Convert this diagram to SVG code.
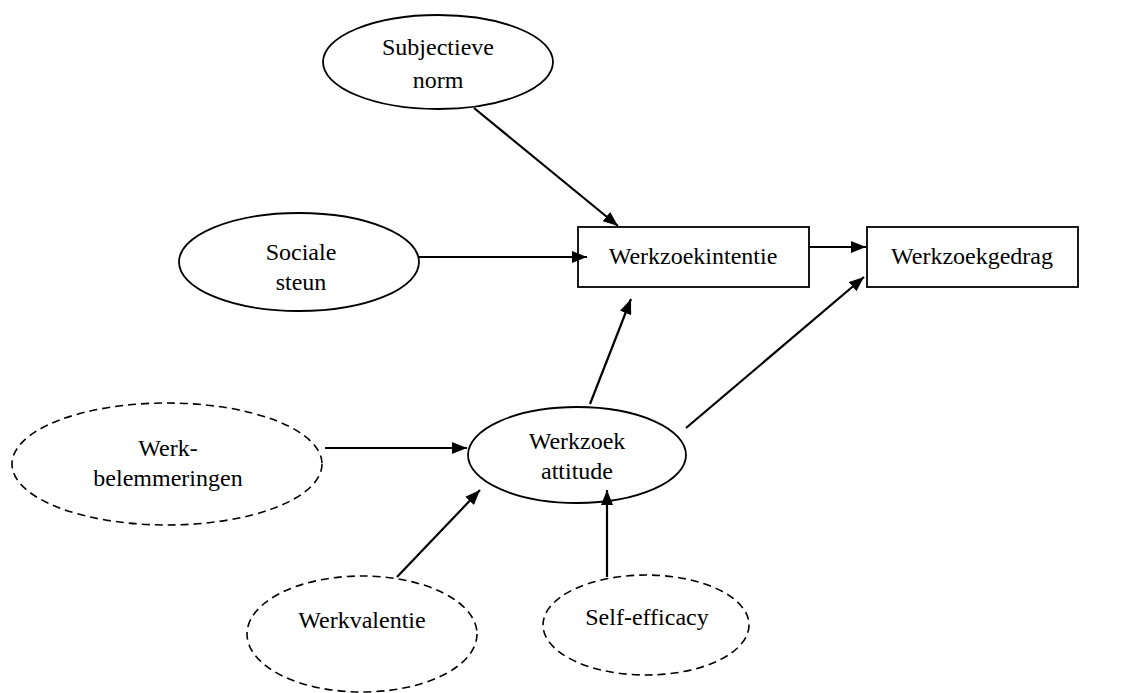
<svg xmlns="http://www.w3.org/2000/svg" width="1146" height="693" viewBox="0 0 1146 693">
<style>
text{font-family:"Liberation Serif","Times New Roman",serif;font-size:24px;fill:#000;text-anchor:middle}
.solid{fill:#fff;stroke:#000;stroke-width:1.8}
.dash{fill:#fff;stroke:#000;stroke-width:1.6;stroke-dasharray:8 5}
.conn line{stroke:#000;stroke-width:2.2;marker-end:url(#ah)}
</style>
<defs>
<marker id="ah" markerUnits="userSpaceOnUse" markerWidth="16" markerHeight="12" refX="15" refY="6" orient="auto">
<path d="M0,0 L15,6 L0,12 z" fill="#000"/>
</marker>
</defs>
<rect width="1146" height="693" fill="#fff"/>
<g id="subjectieve-norm">
<ellipse class="solid" cx="438" cy="62" rx="115" ry="47"/>
<text x="438" y="55">Subjectieve</text>
<text x="438" y="88">norm</text>
</g>
<g id="sociale-steun">
<ellipse class="solid" cx="299" cy="262" rx="120" ry="49"/>
<text x="301" y="260">Sociale</text>
<text x="301" y="290">steun</text>
</g>
<g id="werkzoekintentie">
<rect class="solid" x="578" y="227" width="231" height="60"/>
<text x="693" y="264">Werkzoekintentie</text>
</g>
<g id="werkzoekgedrag">
<rect class="solid" x="867" y="227" width="211" height="60"/>
<text x="972" y="264">Werkzoekgedrag</text>
</g>
<g id="werkzoek-attitude">
<ellipse class="solid" cx="577" cy="455" rx="109" ry="48"/>
<text x="577" y="449">Werkzoek</text>
<text x="577" y="479">attitude</text>
</g>
<g id="werkbelemmeringen">
<ellipse class="dash" cx="167" cy="464" rx="155" ry="61"/>
<text x="168" y="456">Werk-</text>
<text x="168" y="486">belemmeringen</text>
</g>
<g id="werkvalentie">
<ellipse class="dash" cx="362" cy="634" rx="115" ry="58"/>
<text x="362" y="628">Werkvalentie</text>
</g>
<g id="self-efficacy">
<ellipse class="dash" cx="646" cy="625" rx="103" ry="50"/>
<text x="647" y="625">Self-efficacy</text>
</g>
<g id="connectors" class="conn">
<line x1="474" y1="108" x2="618" y2="226"/>
<line x1="419" y1="257" x2="587" y2="257"/>
<line x1="809" y1="247" x2="866" y2="247"/>
<line x1="590" y1="404" x2="631" y2="299"/>
<line x1="686" y1="428" x2="864" y2="277"/>
<line x1="325" y1="448" x2="467" y2="448"/>
<line x1="397" y1="577" x2="480" y2="490"/>
<line x1="607" y1="577" x2="607" y2="490"/>
</g>
</svg>
